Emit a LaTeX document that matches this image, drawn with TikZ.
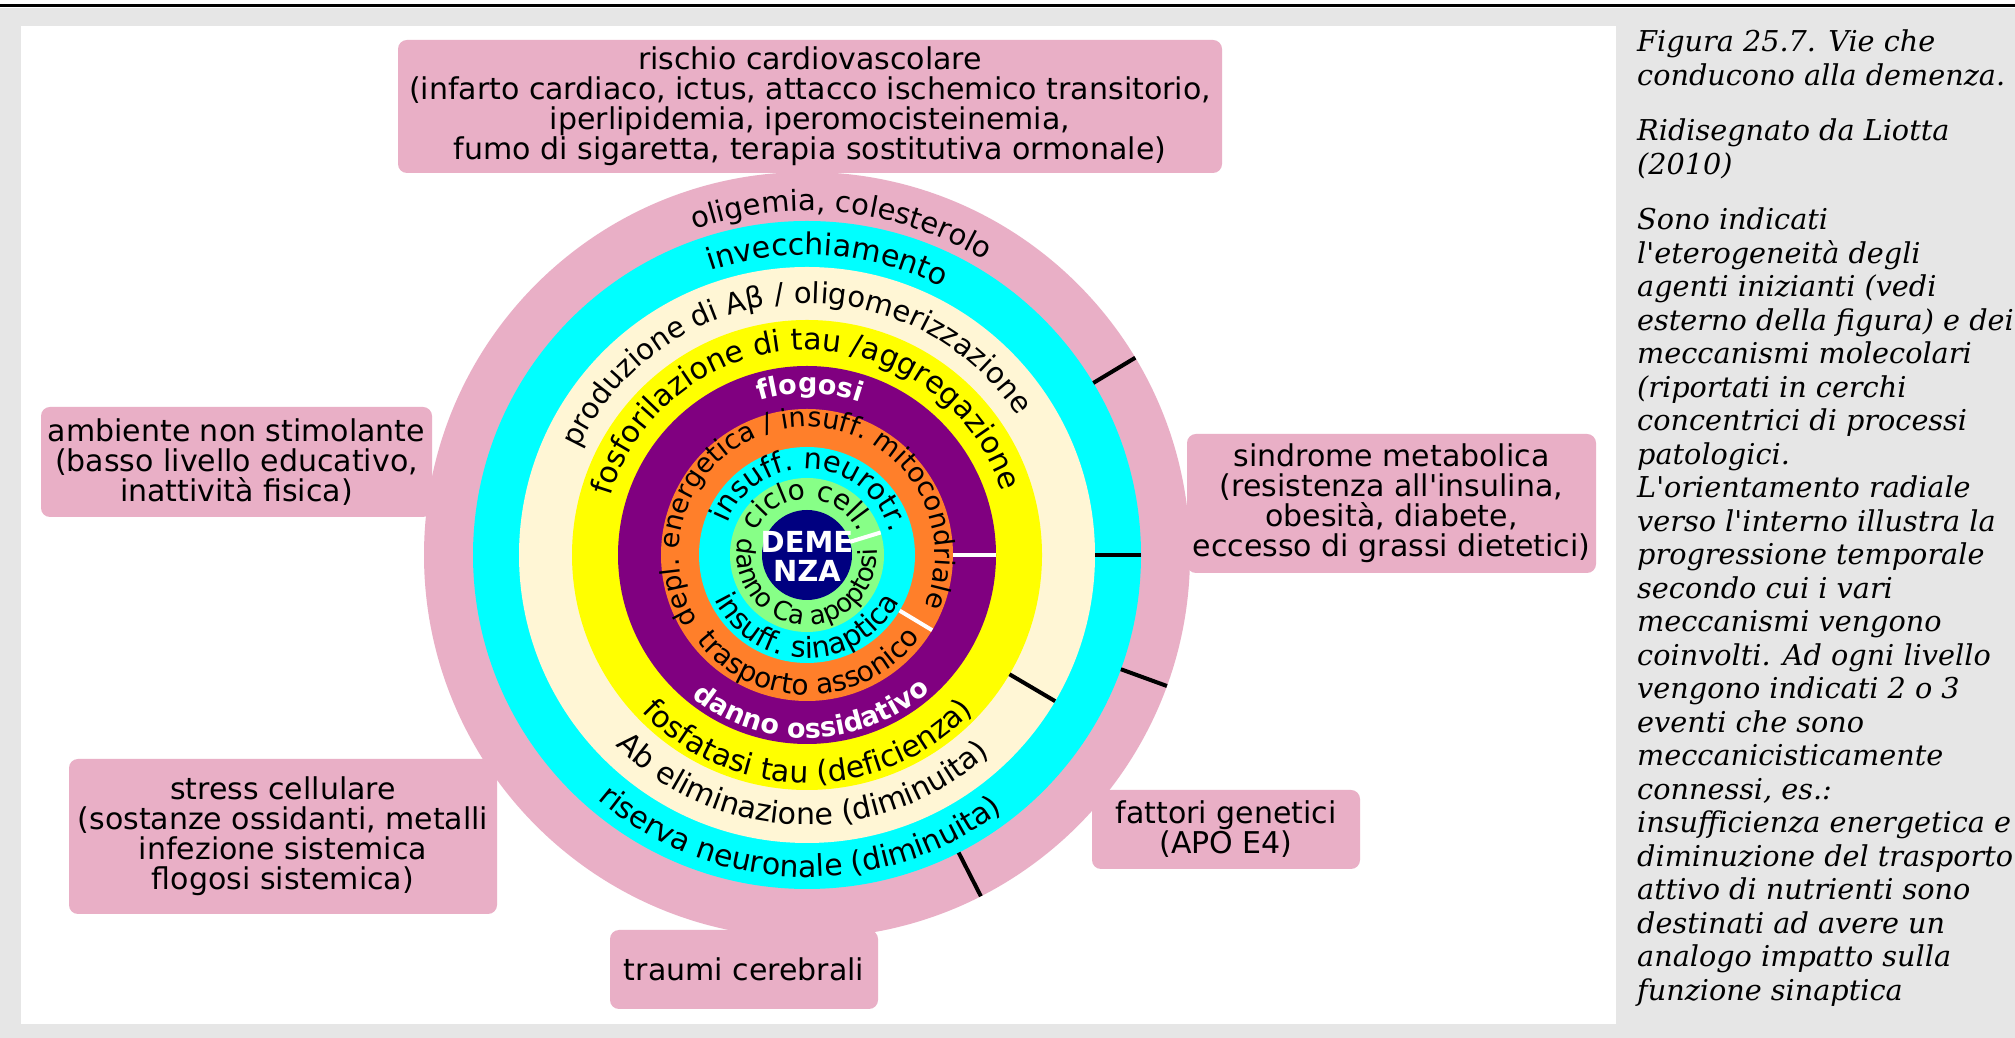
\documentclass[tikz,border=0pt]{standalone}
\usepackage{fontspec}
\setsansfont{DejaVu Sans}[Ligatures=TeXOff]
\newfontfamily\capfont{DejaVu Serif}[Ligatures=TeXOff]
\usetikzlibrary{decorations.text}

\definecolor{rosa}{RGB}{233,175,198}
\definecolor{ciano}{RGB}{0,255,255}
\definecolor{crema}{RGB}{255,246,213}
\definecolor{giallo}{RGB}{255,255,0}
\definecolor{viola}{RGB}{128,0,128}
\definecolor{arancio}{RGB}{255,127,42}
\definecolor{verde}{RGB}{135,255,135}
\definecolor{blu}{RGB}{0,0,128}
\definecolor{fondo}{RGB}{230,230,230}

\newcommand\boxfont{\sffamily\fontsize{30}{30}\selectfont}
\newcommand\rf[1]{\sffamily\fontsize{#1}{#1}\selectfont}
\newcommand\rfb[1]{\sffamily\bfseries\fontsize{#1}{#1}\selectfont}

% text on an arc, centred on an angle (top: clockwise, bottom: anticlockwise)
\newcommand\arcsopra[5]{%
  \path[decorate,decoration={text along path,text align=center,text color=#4,
    text={|#3|#5}}] (#1+170:#2) arc[start angle=#1+170,end angle=#1-170,radius=#2];}
\newcommand\arcsotto[5]{%
  \path[decorate,decoration={text along path,text align=center,text color=#4,
    text={|#3|#5}}] (#1-170:#2) arc[start angle=#1-170,end angle=#1+170,radius=#2];}

\begin{document}
\begin{tikzpicture}[x=1pt,y=1pt,
  box/.style={fill=rosa,rounded corners=9pt,inner sep=0pt,align=center,font=\boxfont,text=black},
  didasc/.style={anchor=base west,align=left,inner sep=0pt,font=\capfont\itshape\fontsize{28.7}{33.5}\selectfont},
  tacca/.style={line width=4pt}
]
  \useasboundingbox (0,0) rectangle (2015,1038);
  % background
  \fill[fondo] (0,0) rectangle (2015,1030);
  \draw[line width=3pt] (0,1032) -- (2015,1032);
  \fill[white] (21,14) rectangle (1616,1012);

  % concentric rings
  \begin{scope}[shift={(807,483)}]
    \foreach \r/\c in {383/rosa,334/ciano,288/crema,235/giallo,189/viola,146/arancio,108/ciano,77/verde,45/blu}
      \fill[\c] (0,0) circle[radius=\r];
    \foreach \a/\ri/\ro in {31/334/383,0/288/334,-20/334/383,-30.5/235/288,-63/334/383}
      \draw[tacca] (\a:\ri) -- (\a:\ro);
    \foreach \a/\ri/\ro in {17/45/77,0/146/189,-31/108/146}
      \draw[tacca,white] (\a:\ri) -- (\a:\ro);

    \arcsopra{84}{344}{\rf{29}}{black}{oligemia, colesterolo}
    \arcsopra{86}{300}{\rf{30}}{black}{invecchiamento}
    \arcsopra{94.3}{252}{\rf{29}}{black}{produzione di Aβ / oligomerizzazione}
    \arcsopra{90.7}{205}{\rf{30}}{black}{fosforilazione di tau /aggregazione}
    \arcsopra{89}{162}{\rfb{27}}{white}{flogosi}
    \arcsopra{94}{128}{\rf{27}}{black}{depl. energetica / insuff. mitocondriale}
    \arcsopra{86.5}{86}{\rf{29}}{black}{insuff. neurotr.}
    \arcsopra{89.5}{56}{\rf{28}}{black}{ciclo cell.}

    \arcsotto{268.5}{322}{\rf{30}}{black}{riserva neuronale (diminuita)}
    \arcsotto{268.8}{270}{\rf{30}}{black}{Ab eliminazione (diminuita)}
    \arcsotto{270.2}{228}{\rf{30}}{black}{fosfatasi tau (deficienza)}
    \arcsotto{271.7}{183}{\rfb{27}}{white}{danno ossidativo}
    \arcsotto{270.8}{140}{\rf{28}}{black}{trasporto assonico}
    \arcsotto{269.5}{103}{\rf{29}}{black}{insuff. sinaptica}
    \arcsotto{265.5}{70}{\rf{26}}{black}{danno Ca apoptosi}
  \end{scope}
  \node[align=center,text=white,font=\rfb{29}] (demenza) at (807,482) {DEME\\NZA};

  % risk factors
  \node[box,minimum width=824pt,minimum height=133pt] (cardio) at (810,931.5)
    {rischio cardiovascolare\\(infarto cardiaco, ictus, attacco ischemico transitorio,\\iperlipidemia, iperomocisteinemia,\\fumo di sigaretta, terapia sostitutiva ormonale)};
  \node[box,minimum width=391pt,minimum height=110pt] (ambiente) at (236.5,576)
    {ambiente non stimolante\\(basso livello educativo,\\inattività fisica)};
  \node[box,minimum width=409pt,minimum height=139pt] (metabolica) at (1391.5,534.5)
    {sindrome metabolica\\(resistenza all'insulina,\\obesità, diabete,\\eccesso di grassi dietetici)};
  \node[box,minimum width=428pt,minimum height=155pt] (stress) at (283,201.5)
    {stress cellulare\\(sostanze ossidanti, metalli\\infezione sistemica\\flogosi sistemica)};
  \node[box,minimum width=268pt,minimum height=79pt] (genetici) at (1226,208.5)
    {fattori genetici\\(APO E4)};
  \node[box,minimum width=268pt,minimum height=79pt] (traumi) at (744,68.5)
    {traumi cerebrali};

  % caption (anchored on its last line)
  \node[didasc] (didascalia) at (1637,37.5)
    {Figura 25.7. Vie che\\conducono alla demenza.\\[22pt]Ridisegnato da Liotta\\(2010)\\[22pt]Sono indicati\\l'eterogeneità degli\\agenti inizianti (vedi\\esterno della figura) e dei\\meccanismi molecolari\\(riportati in cerchi\\concentrici di processi\\patologici.\\L'orientamento radiale\\verso l'interno illustra la\\progressione temporale\\secondo cui i vari\\meccanismi vengono\\coinvolti. Ad ogni livello\\vengono indicati 2 o 3\\eventi che sono\\meccanicisticamente\\connessi, es.:\\insufficienza energetica e\\diminuzione del trasporto\\attivo di nutrienti sono\\destinati ad avere un\\analogo impatto sulla\\funzione sinaptica};
\end{tikzpicture}
\end{document}
